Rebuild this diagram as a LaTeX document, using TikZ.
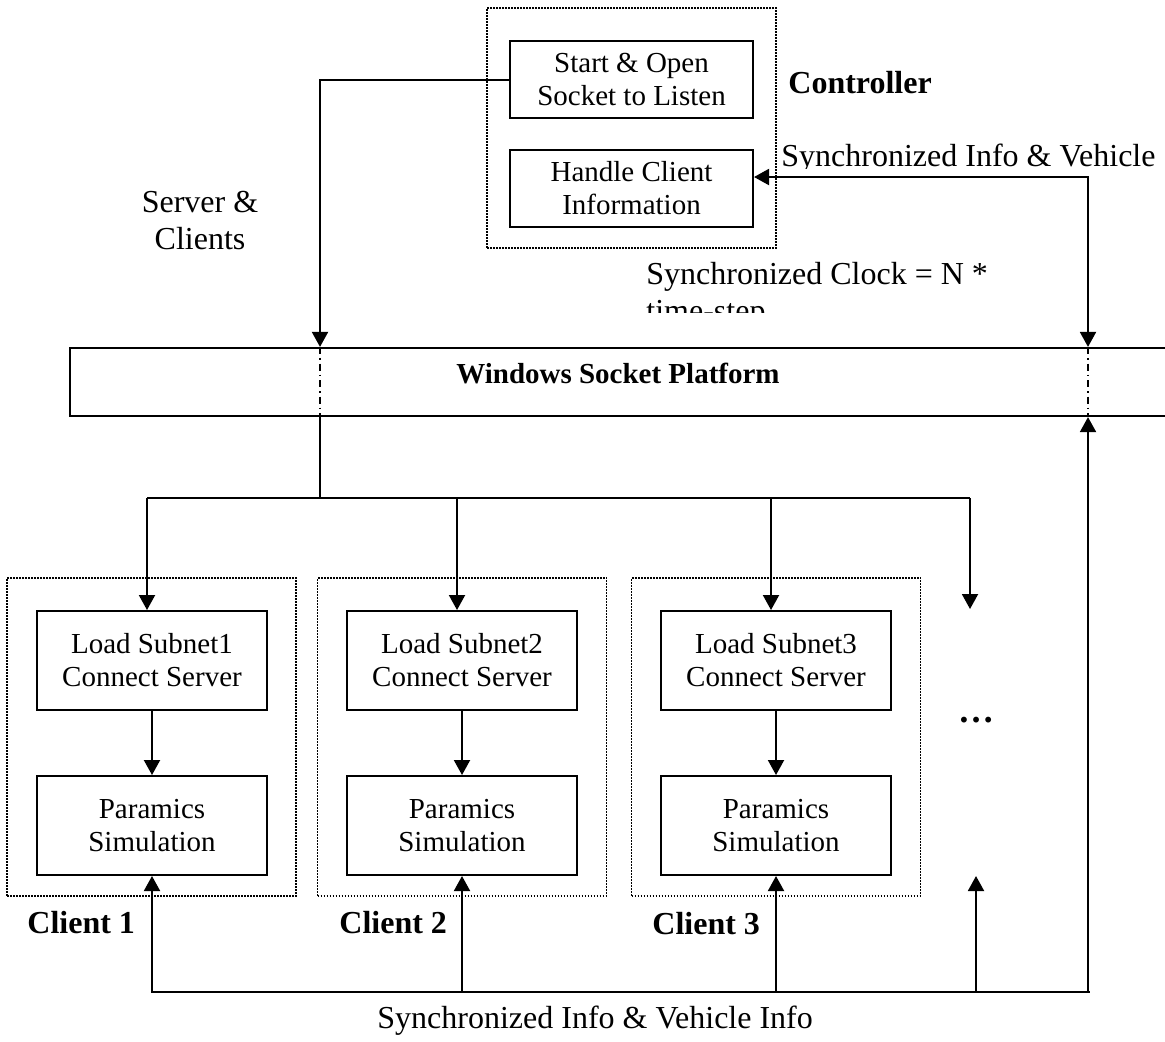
\documentclass[tikz,border=0pt]{standalone}
\usepackage{fontspec}
\setmainfont{Liberation Serif}
\usepackage{tikz}
\usetikzlibrary{arrows.meta, positioning}
\newcommand{\boxfont}{\fontsize{14.5}{16.5}\selectfont}
\newcommand{\lblfont}{\fontsize{16}{18.5}\selectfont}
\tikzset{
  procbox/.style={draw, line width=1pt, inner sep=0pt, align=center, font=\boxfont},
  ctrlbox/.style={procbox, minimum width=121.5pt, minimum height=38.5pt},
  subbox/.style={procbox, minimum width=115pt, minimum height=49.5pt},
  groupbox/.style={draw, line width=0.8pt, dash pattern=on 0.8pt off 0.7pt, inner sep=0pt},
  clientgroup/.style={groupbox, minimum width=144.5pt, minimum height=159pt},
  wire/.style={line width=1pt},
  arr/.style={wire, -{Triangle[length=7.5pt, width=8pt]}},
  twoarr/.style={wire, {Triangle[length=7.5pt, width=8pt]}-{Triangle[length=7.5pt, width=8pt]}},
  dashdotwire/.style={line width=0.8pt, dash pattern=on 3.5pt off 2pt on 0.8pt off 2pt},
  lbl/.style={inner sep=0pt, font=\lblfont},
  boldlbl/.style={inner sep=0pt, font=\lblfont\bfseries}
}

\begin{document}
\begin{tikzpicture}[x=0.5pt, y=-0.5pt]
    \useasboundingbox (0,0) rectangle (1165,1041);
    \clip (0,0) rectangle (1165,1041);

    % controller
    \node[groupbox, minimum width=144.5pt, minimum height=120pt] (ctrlgroup) at (631.5,128) {};
    \node[ctrlbox] (start) at (631.5,79.5) {Start \& Open\\Socket to Listen};
    \node[ctrlbox] (handle) at (631.5,188.5) {Handle Client\\Information};
    \node[boldlbl, anchor=base west] (ctrllabel) at (788,93) {Controller};

    % socket platform
    \node[draw, line width=1.1pt, minimum width=555pt, minimum height=34pt, inner sep=0pt] (platform) at (625,382) {};
    \node[lbl, font=\boxfont\bfseries, anchor=base] (platformlabel) at (618,383) {Windows Socket Platform};

    \coordinate (lefttap) at (320,0);
    \coordinate (righttap) at (1088,177);

    \draw[arr] (start.west) -| (lefttap |- platform.north);
    \draw[twoarr] (handle.east |- righttap) -- (righttap) -- (righttap |- platform.north);
    \draw[dashdotwire] (lefttap |- platform.north) -- (lefttap |- platform.south);
    \draw[dashdotwire] (righttap |- platform.north) -- (righttap |- platform.south);

    \node[lbl, align=center] (serverlabel) at (200,221) {Server \&\\Clients};
    \begin{scope}
        \clip (770,120) rectangle (1165,168);
        \node[lbl, anchor=base west] (syncinfo) at (781,166) {Synchronized Info \& Vehicle};
    \end{scope}
    \begin{scope}
        \clip (630,240) rectangle (1000,312);
        \node[lbl, align=left, anchor=north west] (syncclock) at (646,262) {Synchronized Clock = N *\\time-step};
    \end{scope}

    % clients
    \node[clientgroup] (client1) at (151.5,737) {};
    \node[subbox] (load1) at (152,660.5) {Load Subnet1\\Connect Server};
    \node[subbox] (sim1) at (152,825.5) {Paramics\\Simulation};
    \node[boldlbl, anchor=base west] (client1label) at (27,933) {Client 1};

    \node[clientgroup] (client2) at (462,737) {};
    \node[subbox] (load2) at (462,660.5) {Load Subnet2\\Connect Server};
    \node[subbox] (sim2) at (462,825.5) {Paramics\\Simulation};
    \node[boldlbl, anchor=base west] (client2label) at (339,933) {Client 2};

    \node[clientgroup] (client3) at (776,737) {};
    \node[subbox] (load3) at (776,660.5) {Load Subnet3\\Connect Server};
    \node[subbox] (sim3) at (776,825.5) {Paramics\\Simulation};
    \node[boldlbl, anchor=base west] (client3label) at (652,934) {Client 3};

    \node[inner sep=0pt, font=\fontsize{18}{20}\selectfont\bfseries] (moredots) at (976,720) {\ldots};

    \draw[arr] (load1.south) -- (sim1.north);
    \draw[arr] (load2.south) -- (sim2.north);
    \draw[arr] (load3.south) -- (sim3.north);

    % distribution bus
    \coordinate (busjoin) at (320,498);
    \coordinate (bus1) at (147,498);
    \coordinate (bus2) at (457,498);
    \coordinate (bus3) at (771,498);
    \coordinate (bus4) at (970,498);
    \coordinate (more) at (970,609);
    \draw[wire] (lefttap |- platform.south) -- (busjoin);
    \draw[wire] (bus1) -- (bus4);
    \draw[arr] (bus1) -- (bus1 |- load1.north);
    \draw[arr] (bus2) -- (bus2 |- load2.north);
    \draw[arr] (bus3) -- (bus3 |- load3.north);
    \draw[arr] (bus4) -- (more);

    % feedback bus
    \coordinate (botW) at (151,992);
    \coordinate (botE) at (1090,992);
    \coordinate (moreback) at (976,992);
    \coordinate (moreend) at (976,876);
    \draw[wire] (botW) -- (botE);
    \draw[arr] (sim1.south |- botW) -- (sim1.south);
    \draw[arr] (sim2.south |- botW) -- (sim2.south);
    \draw[arr] (sim3.south |- botW) -- (sim3.south);
    \draw[arr] (moreback) -- (moreend);
    \draw[arr] (righttap |- botW) -- (righttap |- platform.south);

    \node[lbl, anchor=base west] (syncall) at (377,1028) {Synchronized Info \& Vehicle Info};
\end{tikzpicture}
\end{document}
